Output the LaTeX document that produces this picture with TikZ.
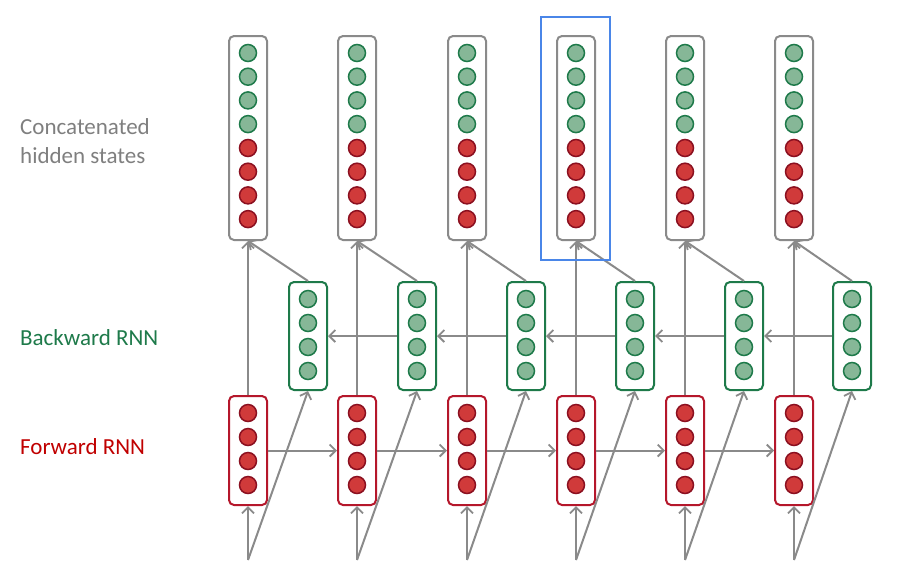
\documentclass[tikz,border=0pt]{standalone}
\usepackage{fontspec}
\setmainfont{Carlito}
\usetikzlibrary{arrows.meta}
\definecolor{grayline}{HTML}{8A8A8A}
\definecolor{gtext}{HTML}{7F7F7F}
\definecolor{gfill}{HTML}{86B797}
\definecolor{gdraw}{HTML}{1E7A4A}
\definecolor{rfill}{HTML}{D03A3A}
\definecolor{rdraw}{HTML}{8B1020}
\definecolor{rbox}{HTML}{B5172B}
\definecolor{btext}{HTML}{1E7A4A}
\definecolor{ftext}{HTML}{C00000}
\definecolor{hl}{HTML}{4A86E8}
\tikzset{
  vecbox/.style={draw, rounded corners=5pt, line width=2pt, fill=white, minimum width=38pt, inner sep=0pt},
  topbox/.style={vecbox, draw=grayline, minimum height=204pt},
  bwdbox/.style={vecbox, draw=gdraw, minimum height=108pt},
  fwdbox/.style={vecbox, draw=rbox, minimum height=109pt},
  gdot/.style={circle, draw=gdraw, fill=gfill, line width=1.5pt, minimum size=17pt, inner sep=0pt},
  rdot/.style={circle, draw=rdraw, fill=rfill, line width=1.5pt, minimum size=17pt, inner sep=0pt},
  conn/.style={draw=grayline, line width=2pt, -{Straight Barb[length=6pt,width=12pt,line width=1.8pt]}},
  lbl/.style={anchor=base west, font=\fontsize{23}{27}\selectfont, inner sep=0pt}
}
\begin{document}
\begin{tikzpicture}[x=1pt,y=-1pt]
\useasboundingbox (0,0) rectangle (901,566);
% labels
\node[lbl, text=gtext] (lc1) at (20,134) {Concatenated};
\node[lbl, text=gtext] (lc2) at (20,163) {hidden states};
\node[lbl, text=btext] (lb) at (20,345) {Backward RNN};
\node[lbl, text=ftext] (lf) at (20,454) {Forward RNN};
% columns
\foreach \i/\x/\xb in {1/248/308, 2/357/417, 3/467/526, 4/576/635, 5/685/744, 6/794/852} {
  \node[topbox] (t\i) at (\x,138) {};
  \foreach \k in {0,1,2,3} {
    \node[gdot] (tg\i\k) at (\x,{53+23.7*\k}) {};
    \node[rdot] (tr\i\k) at (\x,{148+23.7*\k}) {};
  }
  \node[bwdbox] (b\i) at (\xb,336) {};
  \foreach \k in {0,1,2,3} {
    \node[gdot] (bg\i\k) at (\xb,{299+24*\k}) {};
  }
  \node[fwdbox] (f\i) at (\x,450.5) {};
  \foreach \k in {0,1,2,3} {
    \node[rdot] (fr\i\k) at (\x,{413+24*\k}) {};
  }
  \coordinate (in\i) at (\x,560);
}
% connectors
\foreach \i in {1,...,6} {
  \draw[conn] (in\i) -- (f\i.south);
  \draw[conn] (in\i) -- (b\i.south);
  \draw[conn] (f\i.north) -- (t\i.south);
  \draw[conn] (b\i.north) -- (t\i.south);
}
\foreach \i/\j in {1/2, 2/3, 3/4, 4/5, 5/6} {
  \draw[conn] (f\i.east) -- (f\j.west);
  \draw[conn] (b\j.west) -- (b\i.east);
}
% highlight
\node[draw=hl, line width=2.5pt, minimum width=69pt, minimum height=243pt, inner sep=0pt] (hlbox) at (575.5,138.5) {};
\end{tikzpicture}
\end{document}
